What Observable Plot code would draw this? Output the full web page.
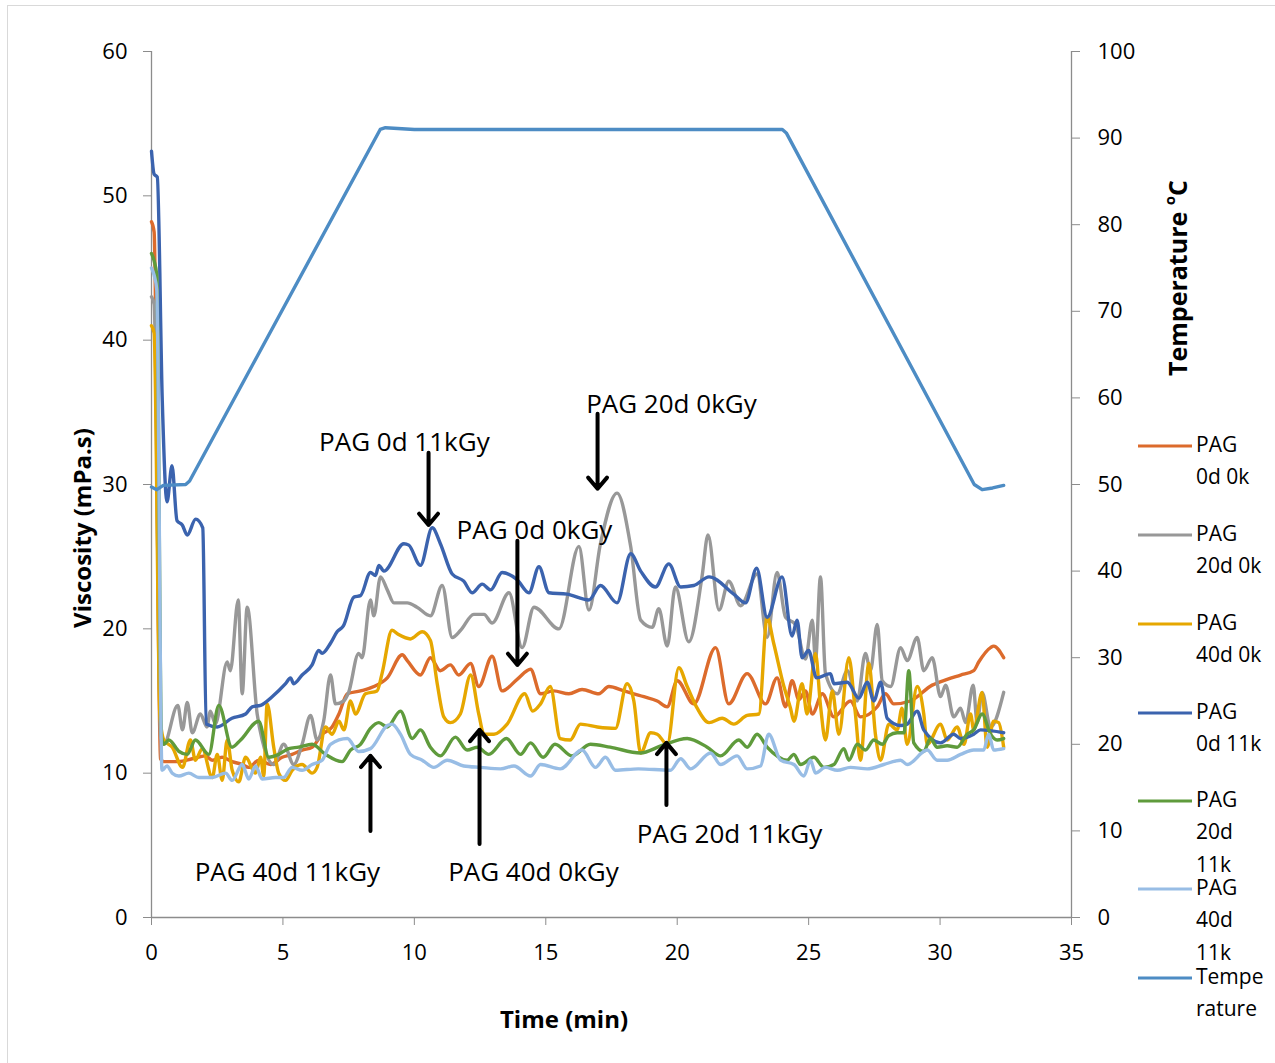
<!DOCTYPE html>
<html><head><meta charset="utf-8">
<script src="https://cdn.jsdelivr.net/npm/d3@7"></script>
<script src="https://cdn.jsdelivr.net/npm/@observablehq/plot@0.6"></script>
<style>body{margin:0;background:#fff} svg{display:block}</style>
</head><body><div id="chart"></div>
<script>
// ---- tick labels ----
const xTicks = [0, 5, 10, 15, 20, 25, 30, 35];
const yTicks = [0, 10, 20, 30, 40, 50, 60];
const tempTicks = [0, 10, 20, 30, 40, 50, 60, 70, 80, 90, 100];

// ---- series: [time (min), viscosity (mPa.s)] ----
const pag0d0k = [[0,48.2],[0.1,47.5],[0.34,11.0],[0.47,10.8],[1.03,10.8],[1.55,11.0],[2.05,11.2],[2.31,10.9],[2.69,11.1],[3.07,10.8],[3.45,10.6],[3.70,10.4],[4.08,10.9],[4.53,10.6],[4.97,11.1],[5.35,11.3],[5.73,11.6],[6.11,11.8],[6.49,12.7],[6.87,13.2],[7.13,14.1],[7.45,15.5],[7.95,15.7],[8.46,16.0],[8.97,16.6],[9.54,18.2],[9.73,17.8],[10.23,16.8],[10.61,18.0],[10.99,17.1],[11.37,17.5],[11.69,16.8],[12.14,17.6],[12.45,16.0],[12.96,18.1],[13.34,15.7],[13.91,16.5],[14.42,17.2],[14.80,15.5],[15.30,15.7],[15.88,15.5],[16.38,15.8],[17.02,15.5],[17.40,16.0],[17.97,15.7],[18.73,15.3],[19.24,15.0],[19.62,14.6],[20.00,16.4],[20.63,14.8],[21.46,18.7],[21.96,14.8],[22.66,16.9],[23.36,14.8],[23.80,16.6],[24.12,14.6],[24.37,16.4],[24.63,15.1],[24.88,15.7],[25.14,14.1],[25.52,15.5],[25.96,13.9],[26.59,15.0],[26.97,13.9],[27.61,14.6],[27.92,15.5],[28.24,14.8],[28.87,15.0],[29.70,16.1],[30.27,16.5],[30.78,16.8],[31.28,17.1],[31.47,17.7],[31.92,18.7],[32.04,18.8],[32.42,18.0]];

const pag20d0k = [[0,43],[0.1,42.5],[0.35,12.5],[0.47,12.0],[1.0,14.7],[1.18,13.0],[1.36,14.9],[1.55,12.8],[1.86,14.1],[2.11,13.2],[2.24,14.3],[2.43,13.4],[2.88,17.7],[3.0,17.1],[3.3,22.0],[3.45,15.5],[3.64,21.5],[4.02,14.1],[4.21,12.3],[4.65,10.6],[5.03,12.0],[5.41,10.6],[5.73,12.0],[6.05,14.0],[6.3,12.3],[6.55,13.6],[6.81,16.8],[7.0,14.8],[7.31,15.0],[7.5,15.6],[7.88,18.3],[8.01,18.0],[8.33,22.0],[8.46,20.9],[8.71,23.6],[8.97,22.7],[9.22,21.8],[9.73,21.8],[10.1,21.5],[10.61,20.9],[11.06,23.0],[11.44,19.4],[11.76,19.9],[12.26,21.0],[12.65,21.0],[12.96,20.4],[13.6,22.5],[14.1,18.7],[14.55,21.5],[15.5,20.0],[16.26,25.7],[16.64,21.3],[17.08,25.9],[17.71,29.4],[18.23,25.7],[18.61,20.6],[19.05,20.1],[19.3,21.4],[19.62,18.8],[19.93,22.9],[20.44,19.1],[20.95,23.7],[21.17,26.5],[21.59,21.3],[21.96,23.3],[22.41,21.6],[23.04,23.8],[23.42,19.4],[23.8,23.9],[24.12,20.8],[24.5,20.3],[24.88,17.9],[25.14,20.6],[25.26,17.8],[25.45,23.6],[25.64,16.9],[26.09,15.5],[26.47,17.1],[26.85,15.0],[27.16,18.3],[27.35,17.1],[27.61,20.3],[27.8,16.4],[28.12,16.0],[28.5,18.7],[28.75,17.8],[29.13,19.4],[29.38,17.1],[29.7,18.0],[30.02,15.3],[30.21,16.1],[30.52,13.9],[30.78,14.5],[30.97,13.5],[31.26,16.1],[31.41,13.5],[31.6,15.6],[31.92,13.2],[32.42,15.6]];

const pag40d0k = [[0,41],[0.1,40.5],[0.32,14],[0.47,12.3],[0.79,11.8],[1.18,10.4],[1.48,12.3],[1.67,10.9],[1.93,11.7],[2.31,9.7],[2.5,11.3],[2.69,9.5],[2.88,12.3],[3.07,10.2],[3.32,9.4],[3.58,11.1],[3.96,10.0],[4.15,11.1],[4.27,9.8],[4.4,14.8],[4.65,11.8],[4.84,10.0],[5.1,9.5],[5.35,10.2],[5.73,10.6],[6.11,10.0],[6.3,10.4],[6.62,13.2],[6.87,12.7],[7.13,13.6],[7.32,13.0],[7.57,15.0],[7.76,14.1],[8.14,15.5],[8.58,15.7],[8.77,16.9],[9.15,19.9],[9.4,19.6],[9.85,19.3],[10.3,19.8],[10.61,19.2],[10.87,16.2],[11.12,13.9],[11.37,13.5],[11.75,14.1],[12.14,16.8],[12.45,14.1],[12.65,12.7],[13.03,12.7],[13.53,13.4],[14.2,15.5],[14.5,14.3],[14.8,14.8],[15.17,16.0],[15.55,12.4],[15.93,12.3],[16.32,13.4],[16.96,13.2],[17.65,13.1],[18.09,16.2],[18.35,15.0],[18.61,11.4],[18.99,12.8],[19.24,12.7],[19.62,12.0],[20.06,17.3],[20.38,16.0],[20.76,14.5],[21.21,13.5],[21.71,13.8],[22.15,13.4],[22.66,14.0],[23.11,14.1],[23.42,20.8],[23.67,19.0],[24.06,16.0],[24.31,14.5],[24.44,13.6],[24.75,16.2],[24.94,14.1],[25.26,18.3],[25.45,14.7],[25.64,12.3],[25.9,15.7],[26.15,12.7],[26.53,18.0],[26.78,14.1],[26.97,10.9],[27.29,17.6],[27.54,12.7],[27.74,10.9],[28.05,13.4],[28.37,13.0],[28.55,14.5],[28.75,12.0],[29.13,16.0],[29.38,14.1],[29.51,12.0],[30.02,13.4],[30.27,12.3],[30.65,13.2],[30.91,12.0],[31.16,14.1],[31.28,13.0],[31.6,15.6],[31.79,11.8],[32.04,13.6],[32.23,13.5],[32.42,11.8]];

const pag0d11k = [[0,53.1],[0.1,51.5],[0.22,51.3],[0.41,35.8],[0.59,28.8],[0.78,31.3],[0.97,27.5],[1.17,27.2],[1.36,26.5],[1.68,27.6],[1.95,27.0],[2.08,13.4],[2.5,13.2],[3.06,13.8],[3.58,14.1],[3.83,14.6],[4.15,14.7],[4.59,15.3],[5.1,16.2],[5.29,16.6],[5.41,16.2],[5.73,16.8],[6.11,17.5],[6.36,18.5],[6.49,18.3],[6.81,19.0],[7.06,19.8],[7.3,20.2],[7.7,22.2],[7.95,22.3],[8.33,23.9],[8.52,23.7],[8.65,24.4],[8.84,24.0],[9.6,25.9],[9.79,25.8],[10.23,24.4],[10.68,27.0],[10.99,25.9],[11.44,23.8],[11.88,23.3],[12.2,22.5],[12.58,23.1],[12.9,22.7],[13.34,23.9],[13.91,23.4],[14.36,22.5],[14.74,24.3],[15.12,22.5],[15.81,22.4],[16.64,22.0],[17.08,23.0],[17.71,21.8],[18.23,25.2],[18.61,24.0],[19.17,22.9],[19.68,24.5],[20.13,22.9],[20.63,23.0],[21.21,23.6],[22.15,22.4],[22.6,21.8],[23.02,24.2],[23.42,20.8],[23.99,23.6],[24.37,19.5],[24.56,20.6],[24.75,18.0],[25.0,18.5],[25.3,16.6],[25.83,16.9],[25.96,16.2],[26.47,16.3],[26.91,15.2],[27.23,16.3],[27.48,15.0],[27.74,16.3],[27.99,13.8],[28.5,13.3],[28.75,13.4],[29.13,14.3],[29.38,13.0],[30.02,12.1],[30.52,12.7],[30.78,12.4],[31.28,12.7],[31.54,13.0],[32.42,12.8]];

const pag20d11k = [[0,46],[0.1,45.5],[0.2,44.5],[0.38,12.5],[0.47,12.0],[0.66,12.3],[1.05,11.5],[1.36,11.3],[1.67,12.3],[2.18,11.3],[2.56,14.7],[3.06,11.8],[3.39,12.3],[4.08,13.6],[4.46,11.1],[4.84,11.3],[5.22,11.7],[5.6,11.8],[6.11,12.0],[6.62,11.3],[7.25,10.8],[7.57,11.6],[7.95,12.0],[8.33,13.1],[8.65,13.5],[8.97,13.2],[9.47,14.3],[9.92,12.4],[10.23,13.0],[10.61,11.8],[10.99,11.2],[11.56,12.5],[12.01,11.6],[12.39,11.8],[12.83,11.3],[13.5,12.4],[14.04,11.3],[14.42,12.1],[14.9,11.1],[15.35,12.0],[16.0,11.2],[16.7,12.0],[17.45,11.8],[18.6,11.4],[19.4,11.9],[20.38,12.4],[21.14,11.8],[21.65,11.2],[22.34,12.3],[22.66,11.8],[23.04,12.7],[23.42,11.8],[24.18,10.9],[24.44,11.3],[24.69,10.6],[25.2,11.1],[25.58,10.4],[25.96,10.6],[26.34,11.7],[26.53,10.9],[26.85,12.0],[27.16,11.6],[27.48,12.3],[27.8,12.0],[28.05,12.6],[28.37,12.8],[28.63,12.8],[28.81,17.1],[29.0,12.1],[29.38,11.5],[29.63,12.4],[29.89,11.8],[30.27,11.9],[30.65,11.8],[31.03,12.7],[31.28,13.0],[31.6,14.1],[31.92,12.7],[32.17,12.3],[32.42,12.4]];

const pag40d11k = [[0,45],[0.1,44.5],[0.2,43.5],[0.4,10.2],[0.59,10.5],[0.79,10.0],[1.04,9.8],[1.42,10.0],[1.8,9.7],[2.31,9.7],[2.82,10.0],[3.07,9.5],[3.45,10.6],[3.7,9.6],[3.96,10.5],[4.21,9.6],[4.72,9.7],[5.03,9.7],[5.35,10.4],[5.73,10.2],[6.11,10.6],[6.49,10.9],[6.81,12.0],[7.45,12.4],[7.88,11.5],[8.33,11.7],[8.97,13.3],[9.15,13.4],[9.47,12.7],[9.85,11.3],[10.3,10.9],[10.74,10.4],[11.25,10.9],[11.88,10.5],[12.52,10.4],[13.28,10.3],[13.79,10.5],[14.42,9.8],[14.8,10.6],[15.55,10.3],[16.38,11.6],[16.89,10.4],[17.27,11.1],[17.65,10.2],[18.52,10.3],[19.74,10.2],[20.13,11.0],[20.51,10.3],[21.27,11.4],[21.65,10.6],[22.28,11.2],[22.66,10.3],[23.17,10.5],[23.48,12.7],[23.93,10.9],[24.44,10.6],[24.82,9.8],[25.07,10.9],[25.26,10.0],[25.64,10.4],[26.09,10.2],[26.59,10.4],[27.23,10.3],[27.86,10.6],[28.5,10.9],[28.75,10.6],[29.51,11.6],[29.89,10.9],[30.27,10.9],[30.78,11.3],[31.28,11.6],[31.66,11.6],[31.85,12.7],[32.04,11.6],[32.42,11.7]];

// temperature: [time (min), °C]  (secondary axis, 0–100)
const temperature = [[0,49.7],[0.2,49.4],[0.45,49.9],[1.3,50.0],[1.45,50.4],[8.7,91.0],[8.9,91.2],[10.0,91.0],[24.0,91.0],[24.15,90.6],[31.3,50.0],[31.6,49.4],[32.0,49.6],[32.42,49.9]];

// ---- legend ----
const seriesNames = ["PAG 0d 0k", "PAG 20d 0k", "PAG 40d 0k", "PAG 0d 11k", "PAG 20d 11k", "PAG 40d 11k", "Temperature"];
const seriesColors = ["#DC6B2C", "#989898", "#E6A700", "#3B63AE", "#5F9B3C", "#98BDE5", "#4D8CC4"];
const legendLines = [["PAG", "0d 0k"], ["PAG", "20d 0k"], ["PAG", "40d 0k"], ["PAG", "0d 11k"], ["PAG", "20d", "11k"], ["PAG", "40d", "11k"], ["Tempe", "rature"]];

// ---- annotations: label position and arrow (time, viscosity) ----
const annLabels = ["PAG 0d 11kGy", "PAG 20d 0kGy", "PAG 0d 0kGy", "PAG 40d 11kGy", "PAG 40d 0kGy", "PAG 20d 11kGy"];
const annTextX = [9.62, 19.78, 14.57, 5.17, 14.53, 21.99];
const annTextY = [32.9, 35.5, 26.8, 3.1, 3.1, 5.75];
const arrowX = [10.54, 16.97, 13.92, 8.33, 12.48, 19.59];
const arrowFrom = [32.2, 34.9, 26.1, 6.0, 5.1, 7.8];
const arrowTo = [27.2, 29.7, 17.5, 11.2, 13.0, 12.1];

const TEMP_TO_VISC = 60 / 100;
const viscSeries = [pag0d0k, pag20d0k, pag40d0k, pag0d11k, pag20d11k, pag40d11k];
const axisGray = "#8C8C8C";

const annotations = annLabels.map((label, i) => ({label, x: annTextX[i], y: annTextY[i]}));
const arrows = annLabels.map((label, i) => ({x: arrowX[i], y1: arrowFrom[i], y2: arrowTo[i]}));

const lineMarks = viscSeries.map((s, i) =>
  Plot.line(s, {x: d => d[0], y: d => d[1], stroke: seriesColors[i], strokeWidth: 3.4, curve: "monotone-x"})
);

const chart = Plot.plot({
  width: 1275, height: 1063,
  marginLeft: 151, marginRight: 204, marginTop: 51, marginBottom: 146,
  style: {fontFamily: "'Open Sans', sans-serif", fontSize: "22px", background: "#fff", color: "#000"},
  x: {domain: [0, 35], label: null},
  y: {domain: [0, 60], label: null},
  marks: [
    Plot.axisX(xTicks, {tickSize: 8, tickPadding: 19, stroke: axisGray, fill: "#000", fontSize: 22, label: null}),
    Plot.axisY(yTicks, {tickSize: 8, tickPadding: 16, stroke: axisGray, fill: "#000", fontSize: 22, label: null}),
    Plot.axisY(tempTicks.map(t => t * TEMP_TO_VISC), {anchor: "right", tickFormat: d => String(Math.round(d / TEMP_TO_VISC)), tickSize: 8, tickPadding: 18, stroke: axisGray, fill: "#000", fontSize: 22, label: null}),
    Plot.ruleX([0, 35], {stroke: axisGray, strokeWidth: 1.3}),
    Plot.ruleY([0], {stroke: axisGray, strokeWidth: 1.3}),
    ...lineMarks,
    Plot.line(temperature, {x: d => d[0], y: d => d[1] * TEMP_TO_VISC, stroke: seriesColors[6], strokeWidth: 3.4, curve: "linear", strokeLinejoin: "round"}),
    Plot.text(annotations, {x: "x", y: "y", text: "label", fontSize: 26, fill: "#000"}),
    Plot.arrow(arrows, {x: "x", y1: "y1", y2: "y2", stroke: "#000", strokeWidth: 4, headLength: 5.5, headAngle: 80})
  ]
});

const svg = d3.select(chart);
// outer frame
svg.insert("rect", ":first-child").attr("x", 7.5).attr("y", 5.5).attr("width", 1300).attr("height", 1100)
  .attr("fill", "none").attr("stroke", "#D9D9D9").attr("stroke-width", 1);

// axis titles
const bold = {"font-family": "'Open Sans', sans-serif", "font-weight": "bold", "font-size": "24px", "fill": "#000"};
function styleText(sel, st) { for (const k in st) sel.attr(k, st[k]); return sel; }
styleText(svg.append("text"), bold).attr("x", 564).attr("y", 1022).attr("text-anchor", "middle").attr("dominant-baseline", "middle").text("Time (min)");
styleText(svg.append("text"), bold).attr("transform", "translate(85,528) rotate(-90)").attr("text-anchor", "middle").attr("dominant-baseline", "middle").text("Viscosity (mPa.s)");
const tt = styleText(svg.append("text"), bold).attr("font-size", "25px").attr("transform", "translate(1180,278) rotate(-90)").attr("text-anchor", "middle").attr("dominant-baseline", "middle");
tt.append("tspan").text("Temperature ");
tt.append("tspan").attr("font-size", "15px").attr("dy", "-9").text("o");
tt.append("tspan").attr("dy", "9").text("C");

// legend
const legendY = [446, 535, 624, 713, 801, 889, 978];
const lg = svg.append("g").attr("text-anchor", "start");
legendLines.forEach((lines, i) => {
  const y = legendY[i];
  lg.append("line").attr("x1", 1138).attr("x2", 1192).attr("y1", y).attr("y2", y)
    .attr("stroke", seriesColors[i]).attr("stroke-width", 3);
  lines.forEach((ln, j) => {
    lg.append("text").attr("x", 1196).attr("y", y + j * 32.5).attr("dominant-baseline", "middle")
      .attr("text-anchor", "start")
      .attr("font-family", "'Open Sans', sans-serif").attr("font-size", "21px").attr("fill", "#000").text(ln);
  });
});

document.getElementById("chart").appendChild(chart);
</script>
</body></html>
